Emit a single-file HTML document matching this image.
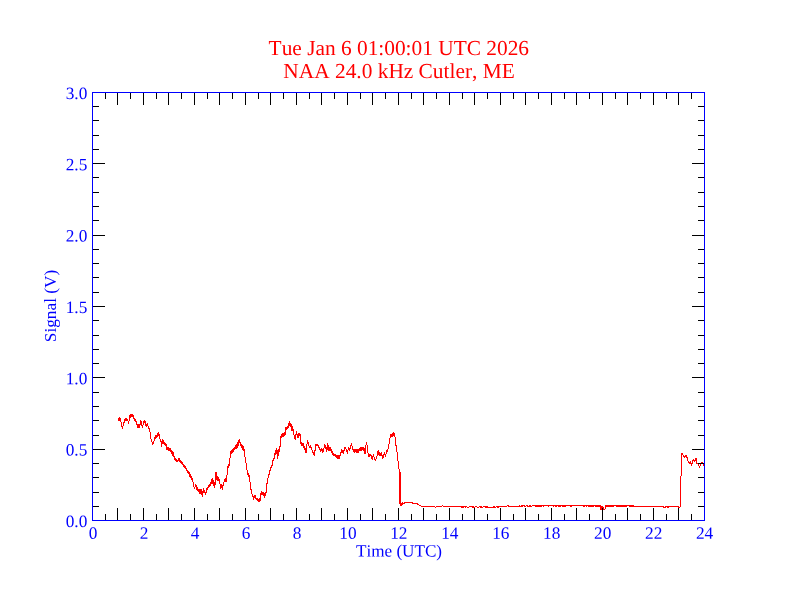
<!DOCTYPE html>
<html lang="en"><head><meta charset="utf-8"><title>NAA 24.0 kHz Cutler, ME</title>
<style>
html,body{margin:0;padding:0;background:#ffffff;}
body{width:792px;height:612px;overflow:hidden;}
svg{display:block;will-change:transform;}
text{font-kerning:none;font-variant-ligatures:none;}
</style></head><body>
<svg width="792" height="612" viewBox="0 0 792 612" role="img" aria-label="NAA 24.0 kHz Cutler, ME signal plot">
<path d="M118.2 419.9L118.5 418.4L118.7 419.4L119.0 417.7L119.2 419.0L119.4 417.5L119.7 418.0L119.9 417.0L120.0 417.8L120.1 417.8L120.1 418.6L120.2 418.5L120.3 419.3L120.4 419.1L120.4 419.9L120.5 419.9L120.6 420.6L120.7 420.4L120.7 421.3L120.8 421.2L120.9 422.0L121.0 422.0L121.0 422.7L121.1 422.6L121.2 423.3L121.3 423.3L121.3 424.1L121.4 423.9L121.5 424.7L121.6 424.6L121.6 425.4L121.7 425.2L121.8 426.1L121.9 425.9L121.9 426.7L122.0 426.6L122.1 427.5L122.2 427.4L122.2 428.1L122.3 428.1L122.4 428.9L122.5 428.1L122.6 428.1L122.7 427.4L122.8 427.4L122.8 426.7L122.9 426.7L123.0 425.9L123.1 426.0L123.2 425.2L123.3 425.4L123.4 424.5L123.5 424.7L123.5 423.8L123.6 424.0L123.7 423.2L123.8 423.3L123.9 422.4L124.0 422.6L124.1 421.8L124.2 421.9L124.2 421.1L124.3 421.2L124.4 420.4L124.5 420.8L124.8 419.6L125.0 420.7L125.2 418.5L125.5 419.7L125.8 418.1L126.2 419.7L126.6 418.7L127.0 419.9L127.4 419.1L127.5 420.0L127.6 420.0L127.8 420.7L127.9 420.7L128.0 421.4L128.1 421.3L128.2 422.1L128.3 421.9L128.5 422.7L128.6 422.6L128.7 423.4L128.7 422.7L128.8 422.7L128.8 422.0L128.9 422.0L128.9 421.3L129.0 421.3L129.0 420.6L129.1 420.5L129.1 419.8L129.1 419.9L129.2 419.1L129.2 419.3L129.3 418.5L129.3 418.5L129.4 417.7L129.4 417.8L129.5 417.0L129.5 417.6L129.8 415.9L130.1 417.4L130.4 415.4L130.7 416.6L130.9 414.8L131.2 415.9L131.5 414.6L131.8 415.9L132.1 413.9L132.4 415.1L132.5 414.3L132.7 415.7L132.8 414.7L133.0 416.2L133.1 415.4L133.2 417.3L133.4 416.4L133.5 418.0L133.7 416.9L133.8 418.7L134.0 417.6L134.1 419.4L134.3 418.0L134.5 419.6L134.7 419.0L134.9 420.6L135.1 419.1L135.4 420.9L135.6 420.0L135.8 421.7L136.0 420.6L136.2 421.7L136.3 421.7L136.4 422.4L136.5 422.3L136.6 423.0L136.7 423.0L136.8 423.8L136.9 423.8L137.0 424.5L137.0 424.3L137.1 425.1L137.2 425.1L137.3 425.9L137.4 425.8L137.5 426.4L137.6 426.4L137.7 427.2L137.8 426.8L138.0 427.6L138.1 426.1L138.3 427.3L138.4 425.4L138.6 426.7L138.8 424.9L138.9 425.7L139.1 424.6L139.2 425.4L139.2 425.3L139.3 426.0L139.3 426.1L139.4 426.8L139.4 426.8L139.5 427.6L139.6 426.7L139.6 426.7L139.7 426.1L139.8 426.2L139.8 425.3L139.9 425.5L139.9 424.7L140.0 424.6L140.1 424.0L140.1 424.0L140.2 423.3L140.2 423.3L140.3 422.5L140.4 422.6L140.4 421.8L140.5 421.9L140.6 421.2L140.6 421.1L140.7 420.3L140.8 420.5L140.8 420.3L140.9 421.2L141.0 421.0L141.1 421.9L141.2 421.9L141.2 422.6L141.3 422.4L141.4 423.3L141.5 423.2L141.6 423.9L141.7 423.9L141.7 424.6L141.8 424.7L141.9 425.4L142.0 425.4L142.1 426.2L142.2 426.1L142.2 426.9L142.3 426.7L142.4 427.6L142.5 426.7L142.6 426.9L142.6 426.0L142.7 426.0L142.8 425.2L142.9 425.3L143.0 424.6L143.1 424.6L143.1 423.8L143.2 423.9L143.3 423.0L143.4 423.2L143.5 422.4L143.5 422.4L143.6 421.6L143.7 422.2L144.1 420.6L144.5 422.1L144.9 421.0L145.3 421.7L145.4 421.6L145.4 422.4L145.5 422.3L145.5 423.2L145.6 423.0L145.7 423.9L145.7 423.9L145.8 424.6L145.8 424.5L145.9 425.2L146.0 425.3L146.0 426.0L146.1 426.0L146.1 426.7L146.2 426.7L146.3 426.8L146.4 426.1L146.6 426.0L146.7 425.4L146.8 425.4L146.9 424.8L147.0 424.9L147.2 424.0L147.3 424.1L147.4 423.4L147.5 424.1L147.6 424.2L147.7 424.9L147.8 424.8L147.9 425.7L148.0 425.6L148.1 426.3L148.2 426.4L148.2 427.4L148.5 426.5L148.7 428.4L148.9 427.3L149.1 428.7L149.3 428.1L149.5 429.2L149.6 429.1L149.6 430.0L149.7 429.9L149.7 430.7L149.8 430.6L149.8 431.4L149.8 431.4L149.9 432.1L150.0 432.0L150.0 432.8L150.1 432.7L150.1 433.6L150.2 433.5L150.2 434.3L150.2 434.2L150.3 434.9L150.4 435.0L150.4 435.7L150.5 435.6L150.6 436.5L150.6 436.4L150.7 437.2L150.8 437.0L150.8 437.8L150.9 437.8L150.9 438.5L151.0 438.5L151.1 439.3L151.1 439.2L151.2 440.1L151.3 439.9L151.4 440.8L151.6 440.6L151.7 441.4L151.8 441.3L151.9 442.0L152.1 442.1L152.2 442.9L152.3 442.9L152.4 443.5L152.6 443.6L152.7 444.3L152.8 444.2L152.9 444.2L153.0 443.5L153.2 443.5L153.3 442.8L153.4 443.0L153.5 442.1L153.6 442.3L153.7 441.5L153.9 441.6L154.0 440.9L154.1 441.0L154.2 440.1L154.3 440.3L154.4 439.5L154.5 439.6L154.6 438.7L154.8 438.8L154.9 438.1L155.0 438.2L155.1 437.3L155.2 437.4L155.3 436.4L155.6 437.2L155.9 435.7L156.3 437.2L156.6 435.5L156.8 436.4L157.0 434.9L157.2 435.8L157.4 434.2L157.6 435.0L157.7 433.6L157.9 435.0L158.1 433.0L158.3 434.2L158.5 432.6L158.7 433.0L158.8 432.9L158.9 433.7L159.0 433.6L159.1 434.4L159.2 434.4L159.3 435.2L159.4 435.2L159.5 435.8L159.5 435.8L159.6 436.7L159.6 436.6L159.7 437.4L159.7 437.3L159.8 438.1L159.8 438.1L159.9 438.8L159.9 438.2L160.1 439.9L160.2 439.1L160.4 440.8L160.6 439.3L160.7 441.1L160.9 440.1L161.0 441.8L161.2 441.2L161.2 442.1L161.3 442.0L161.3 442.7L161.3 442.8L161.3 443.5L161.4 443.5L161.4 444.2L161.4 444.2L161.5 444.9L161.5 444.8L161.5 445.6L161.5 445.5L161.6 446.3L161.6 446.3L161.6 446.4L161.7 445.5L161.7 445.7L161.8 444.9L161.8 444.9L161.9 444.1L161.9 444.3L161.9 443.5L162.0 443.6L162.0 442.7L162.1 442.8L162.1 442.1L162.1 442.1L162.2 441.3L162.2 441.5L162.3 440.6L162.3 440.8L162.4 440.0L162.4 440.3L162.6 439.6L162.7 441.0L162.9 440.0L163.1 442.1L163.2 440.6L163.4 442.4L163.6 441.3L163.8 443.1L163.9 442.2L164.1 444.0L164.3 443.0L164.6 444.2L164.8 443.1L165.0 444.9L165.3 444.0L165.5 445.6L165.7 444.3L166.0 445.8L166.2 445.5L166.3 446.3L166.4 446.2L166.4 447.0L166.5 447.0L166.6 447.8L166.7 447.7L166.8 448.5L166.8 448.5L166.9 449.2L167.0 448.6L167.4 449.9L167.7 448.5L168.1 450.3L168.5 448.9L168.8 450.4L169.2 448.8L169.6 450.3L169.9 448.5L170.3 450.0L170.5 448.9L170.7 450.8L170.9 449.4L171.1 451.1L171.4 450.0L171.6 452.1L171.8 450.6L172.0 452.4L172.2 451.5L172.4 453.0L172.6 452.0L172.8 453.7L173.1 452.3L173.3 454.2L173.5 453.2L173.7 454.2L173.8 454.1L173.8 454.9L173.9 454.8L173.9 455.7L174.0 455.6L174.0 456.4L174.1 456.3L174.1 457.0L174.2 456.9L174.2 457.8L174.3 457.2L174.5 459.0L174.8 457.8L175.0 459.3L175.3 458.5L175.5 459.7L175.8 458.7L176.0 460.7L176.3 459.4L176.5 461.3L176.8 460.1L177.0 461.5L177.2 460.6L177.5 461.9L177.7 460.2L177.9 461.0L178.1 459.5L178.3 460.5L178.5 458.8L178.7 459.7L178.9 458.1L179.1 459.8L179.3 458.5L179.5 460.3L179.7 459.1L179.9 460.8L180.2 460.1L180.4 461.4L180.6 460.8L180.8 462.4L181.0 461.0L181.2 462.7L181.4 462.0L181.7 463.4L181.9 462.2L182.2 464.3L182.4 462.8L182.7 464.7L182.9 463.8L183.2 465.2L183.4 464.3L183.7 465.8L183.9 464.7L184.1 466.2L184.3 465.4L184.5 467.1L184.7 466.1L184.9 467.7L185.2 466.2L185.4 468.4L185.6 467.1L185.8 468.7L186.0 468.1L186.1 468.9L186.2 468.7L186.4 469.6L186.5 469.5L186.6 470.3L186.8 470.1L186.9 470.9L187.0 470.8L187.1 471.5L187.2 470.8L187.5 472.7L187.8 471.5L188.1 473.1L188.4 471.9L188.7 473.4L189.0 472.4L189.3 473.7L189.5 472.9L189.7 474.8L189.8 473.7L190.0 475.4L190.2 474.0L190.3 476.3L190.5 475.2L190.6 476.9L190.7 475.6L190.9 477.1L191.0 476.4L191.2 477.9L191.3 477.2L191.5 478.7L191.7 477.4L191.8 479.3L192.0 478.1L192.2 480.2L192.4 479.2L192.5 481.0L192.7 480.2L192.8 481.0L192.8 480.9L192.9 481.7L192.9 481.6L193.0 482.4L193.1 482.2L193.1 483.2L193.2 483.0L193.3 483.8L193.3 483.7L193.4 484.4L193.4 484.5L193.5 485.1L193.6 485.2L193.7 485.9L193.7 485.9L193.8 486.7L193.9 486.7L194.0 487.4L194.1 487.4L194.1 488.2L194.2 488.2L194.3 489.0L194.4 488.2L194.5 488.2L194.7 487.4L194.8 487.6L194.9 486.8L195.0 486.8L195.1 486.0L195.2 486.1L195.4 485.4L195.5 485.3L195.6 484.3L195.8 486.0L195.9 485.0L196.1 486.5L196.2 485.6L196.4 487.0L196.6 486.3L196.7 487.8L196.9 487.0L197.1 488.3L197.2 487.7L197.4 489.0L197.5 488.2L197.7 489.6L197.9 489.1L198.0 490.5L198.2 489.5L198.3 491.3L198.5 490.3L198.6 491.7L198.8 490.8L199.0 492.1L199.1 491.1L199.3 492.9L199.4 492.2L199.6 493.7L199.8 492.8L199.9 493.7L200.0 492.0L200.2 492.7L200.3 491.5L200.4 492.4L200.6 490.7L200.7 491.8L200.8 489.9L201.0 491.2L201.1 489.3L201.3 490.1L201.4 489.0L201.5 489.8L201.5 489.7L201.6 490.4L201.6 490.5L201.7 491.2L201.7 491.0L201.8 491.9L201.8 491.9L201.8 492.5L201.9 492.6L202.0 493.2L202.0 493.3L202.1 493.9L202.1 493.9L202.2 494.8L202.2 494.7L202.2 495.5L202.3 495.3L202.3 496.2L202.4 496.0L202.5 496.2L202.5 495.4L202.6 495.4L202.6 494.6L202.7 494.8L202.7 494.0L202.8 493.9L202.8 493.1L202.9 493.2L202.9 492.5L203.0 492.5L203.0 491.7L203.1 491.9L203.1 491.1L203.2 491.1L203.2 490.3L203.3 490.4L203.3 489.6L203.4 489.8L203.4 488.9L203.5 488.9L203.6 488.9L203.8 489.7L203.9 489.6L204.0 490.3L204.2 490.3L204.3 491.0L204.4 490.9L204.6 491.7L204.7 491.6L204.8 492.4L204.9 492.3L205.1 493.1L205.2 493.1L205.3 493.7L205.5 493.6L205.6 494.4L205.7 493.7L205.8 493.6L205.9 492.9L205.9 493.0L206.0 492.1L206.1 492.3L206.2 491.5L206.3 491.6L206.4 490.7L206.5 490.8L206.5 490.1L206.6 490.0L206.7 489.4L206.8 490.2L207.0 488.5L207.3 489.4L207.5 487.9L207.7 488.5L207.9 487.0L208.2 488.0L208.4 486.8L208.6 487.4L208.8 485.9L209.1 487.1L209.3 485.7L209.5 486.3L209.8 484.5L209.9 485.7L210.0 484.1L210.2 485.2L210.3 483.3L210.4 484.6L210.6 482.7L210.7 483.9L210.8 482.4L211.0 483.1L211.1 481.8L211.3 482.8L211.4 481.1L211.5 481.7L211.7 480.0L211.8 481.1L211.9 479.4L212.1 480.4L212.2 479.0L212.4 479.9L212.5 478.7L212.6 479.6L212.7 479.5L212.8 480.3L212.9 480.1L213.0 480.9L213.1 480.9L213.2 481.6L213.2 481.6L213.3 482.4L213.4 482.2L213.5 483.1L213.6 483.0L213.7 483.7L213.8 483.6L213.9 484.5L214.0 484.4L214.1 485.1L214.1 485.0L214.2 485.7L214.3 485.7L214.4 486.5L214.4 486.4L214.5 487.2L214.6 487.1L214.7 487.8L214.8 487.8L214.8 487.9L214.8 487.1L214.8 487.1L214.9 486.5L214.9 486.4L214.9 485.8L214.9 485.8L215.0 484.9L215.0 485.1L215.0 484.2L215.0 484.4L215.1 483.5L215.1 483.7L215.1 482.9L215.2 483.0L215.2 482.1L215.2 482.3L215.2 481.5L215.3 481.6L215.3 480.8L215.3 480.9L215.3 480.0L215.4 480.1L215.4 479.3L215.4 479.4L215.5 478.8L215.5 478.8L215.5 478.0L215.5 478.1L215.6 477.3L215.6 477.3L215.6 476.5L215.6 476.6L215.7 475.9L215.7 475.9L215.7 475.1L215.8 475.3L215.8 474.5L215.8 474.5L215.8 473.8L215.9 473.8L215.9 473.2L215.9 473.1L215.9 472.3L216.0 472.5L216.0 471.6L216.1 472.5L216.2 472.3L216.2 473.1L216.3 473.2L216.4 473.8L216.5 473.8L216.5 474.6L216.6 474.5L216.7 475.2L216.8 475.1L216.9 475.9L216.9 475.9L217.0 476.7L217.1 476.5L217.2 477.3L217.2 477.0L217.5 478.7L217.7 477.7L217.9 478.9L218.2 478.0L218.4 479.8L218.6 478.9L218.9 480.1L219.1 479.8L219.2 480.6L219.2 480.5L219.3 481.4L219.4 481.2L219.5 482.1L219.5 482.0L219.6 482.7L219.7 482.7L219.7 483.4L219.8 483.4L219.9 484.1L220.0 484.1L220.0 484.8L220.1 484.8L220.2 485.5L220.2 485.4L220.3 486.3L220.4 486.3L220.5 486.9L220.5 486.9L220.6 488.3L220.8 486.3L220.9 487.7L221.1 485.5L221.3 486.6L221.5 485.2L221.6 486.2L221.8 484.7L221.9 485.6L221.9 485.5L222.0 486.3L222.0 486.3L222.1 487.0L222.1 487.1L222.2 487.8L222.2 487.6L222.3 488.6L222.3 488.4L222.4 489.2L222.5 488.4L222.5 488.6L222.6 487.7L222.7 487.8L222.7 487.0L222.8 487.0L222.9 486.4L222.9 486.4L223.0 485.5L223.1 485.7L223.2 484.9L223.2 484.9L223.3 484.2L223.4 484.3L223.4 483.5L223.5 483.6L223.6 482.8L223.8 482.8L223.9 482.1L224.0 482.2L224.2 481.4L224.3 481.6L224.4 480.7L224.5 480.9L224.7 480.2L224.8 480.2L224.9 479.4L225.1 479.5L225.2 478.4L225.4 480.2L225.6 478.7L225.8 480.5L226.0 479.5L226.2 481.3L226.4 480.8L226.4 480.9L226.5 480.0L226.5 480.2L226.5 479.4L226.6 479.5L226.6 478.7L226.6 478.7L226.7 477.9L226.7 478.0L226.7 477.3L226.8 477.4L226.8 476.5L226.8 476.6L226.9 475.9L226.9 475.9L226.9 475.2L227.0 475.2L227.0 474.4L227.0 474.4L227.1 473.8L227.1 473.7L227.1 473.1L227.2 473.1L227.2 472.3L227.2 472.5L227.3 471.6L227.3 471.7L227.3 471.0L227.4 470.9L227.4 470.1L227.4 470.2L227.5 469.5L227.5 469.6L227.5 468.8L227.6 468.9L227.6 467.9L227.7 468.5L227.9 466.6L228.0 467.7L228.2 466.0L228.3 467.1L228.4 465.2L228.6 466.7L228.7 464.7L228.8 465.7L229.0 464.4L229.1 465.3L229.3 463.6L229.4 464.0L229.4 463.2L229.5 463.4L229.5 462.6L229.5 462.6L229.6 461.8L229.6 461.8L229.7 461.1L229.7 461.1L229.7 460.3L229.8 460.4L229.8 459.7L229.8 459.6L229.9 459.0L229.9 458.9L230.0 458.1L230.0 458.2L230.0 457.5L230.1 457.6L230.1 456.6L230.1 456.9L230.2 456.1L230.2 456.0L230.2 455.2L230.4 455.4L230.5 454.6L230.6 454.7L230.8 454.0L230.9 454.0L231.0 453.2L231.1 453.4L231.2 452.6L231.4 452.7L231.5 451.9L231.6 452.0L231.8 451.3L231.9 451.4L232.0 450.3L232.2 451.3L232.5 449.3L232.8 451.0L233.0 449.3L233.2 450.5L233.5 448.4L233.8 449.6L234.0 448.2L234.2 449.1L234.5 447.9L234.7 449.0L235.0 447.1L235.2 448.3L235.4 446.6L235.6 447.2L235.9 445.6L236.1 447.1L236.3 444.9L236.5 446.4L236.8 444.6L237.0 445.3L237.1 444.5L237.3 444.5L237.4 443.8L237.5 443.8L237.7 443.1L237.8 443.2L237.9 442.4L238.1 442.5L238.2 441.8L238.3 441.8L238.4 441.1L238.6 441.2L238.7 440.3L238.8 440.6L239.0 439.7L239.1 439.8L239.2 439.7L239.4 440.5L239.5 440.5L239.6 441.2L239.7 441.1L239.9 441.9L240.0 441.8L240.1 442.6L240.2 442.5L240.4 443.3L240.5 443.3L240.6 444.1L240.8 443.3L240.9 445.5L241.0 444.1L241.2 445.9L241.3 444.8L241.4 446.3L241.6 445.5L241.7 447.4L241.8 446.0L242.0 447.6L242.1 446.6L242.3 448.5L242.4 447.2L242.5 449.2L242.7 448.3L242.8 449.9L243.1 448.5L243.4 450.3L243.8 448.9L244.1 450.2L244.1 450.2L244.2 450.9L244.2 450.8L244.3 451.6L244.3 451.6L244.4 452.4L244.4 452.2L244.4 453.0L244.5 453.0L244.5 453.7L244.6 453.7L244.6 454.5L244.6 454.4L244.7 455.1L244.7 455.1L244.8 455.8L244.8 455.9L244.9 456.6L244.9 456.4L245.0 457.3L245.0 457.2L245.1 458.1L245.2 457.9L245.3 458.8L245.3 458.7L245.4 459.6L245.5 459.5L245.6 460.3L245.6 460.2L245.7 461.0L245.7 460.9L245.8 461.7L245.8 461.7L245.9 462.5L245.9 462.4L245.9 463.1L246.0 463.2L246.0 463.9L246.1 464.0L246.1 464.7L246.2 464.7L246.2 465.3L246.2 465.4L246.3 466.1L246.3 466.1L246.4 466.9L246.4 466.8L246.5 467.5L246.5 467.6L246.6 468.3L246.7 468.1L246.7 468.9L246.8 468.9L246.9 469.7L246.9 469.5L247.0 470.2L247.1 470.3L247.2 471.0L247.2 470.9L247.3 471.7L247.4 471.5L247.4 472.3L247.5 471.8L247.7 473.6L247.8 472.3L247.9 474.1L248.1 473.3L248.2 474.7L248.4 473.8L248.6 475.4L248.7 474.3L248.8 476.4L249.0 475.8L249.1 476.5L249.1 476.6L249.2 477.3L249.2 477.2L249.3 478.0L249.3 478.0L249.4 478.8L249.5 478.6L249.5 479.4L249.6 479.4L249.6 480.1L249.7 480.0L249.7 480.8L249.8 480.8L249.9 481.6L249.9 481.5L250.0 482.3L250.0 482.2L250.1 483.1L250.1 482.9L250.2 483.7L250.2 483.8L250.3 484.5L250.3 484.5L250.4 485.2L250.4 485.1L250.5 485.9L250.5 485.8L250.6 486.7L250.6 486.6L250.7 487.4L250.7 487.3L250.8 488.0L250.8 488.0L250.8 488.7L250.9 488.7L250.9 489.4L251.0 489.3L251.0 490.2L251.1 490.2L251.1 490.8L251.2 490.8L251.2 491.5L251.2 491.5L251.4 492.2L251.5 492.1L251.6 492.9L251.7 492.9L251.8 493.6L251.9 493.6L252.0 494.3L252.1 494.3L252.2 495.0L252.3 495.0L252.4 495.7L252.5 495.6L252.6 496.3L252.8 496.3L252.9 497.1L253.0 497.1L253.1 497.9L253.2 497.8L253.4 498.6L253.5 498.3L253.7 499.3L253.8 497.2L253.9 498.4L254.1 496.7L254.2 497.6L254.4 495.8L254.6 497.2L254.7 495.5L254.8 496.6L255.0 495.1L255.1 495.9L255.2 495.8L255.4 496.6L255.5 496.6L255.6 497.3L255.8 497.2L255.9 498.0L256.0 497.9L256.1 498.6L256.2 498.0L256.7 499.7L257.1 498.1L257.5 499.5L257.9 498.5L258.0 499.3L258.2 499.3L258.3 500.1L258.4 500.0L258.6 500.8L258.7 500.8L258.9 501.6L259.0 501.0L259.1 501.9L259.3 500.1L259.4 501.6L259.6 499.5L259.7 500.9L259.9 498.7L260.0 499.5L260.1 498.7L260.1 498.6L260.1 497.9L260.2 498.0L260.2 497.2L260.3 497.3L260.4 496.5L260.4 496.5L260.4 495.7L260.5 495.8L260.6 495.1L260.6 495.1L260.6 494.3L260.7 494.4L260.8 493.6L260.9 493.6L261.0 492.9L261.1 492.9L261.2 492.2L261.3 492.2L261.4 491.5L261.5 491.4L261.6 491.4L261.7 492.2L261.8 492.2L261.9 492.9L262.1 493.0L262.2 493.7L262.3 493.6L262.4 494.5L262.5 494.4L262.6 494.4L262.7 493.8L262.9 493.7L263.0 493.0L263.1 493.1L263.2 492.4L263.3 493.1L263.4 493.0L263.4 493.7L263.5 493.7L263.6 494.5L263.7 494.4L263.8 495.2L263.9 495.1L263.9 495.8L264.0 495.8L264.1 496.6L264.2 495.8L264.4 497.2L264.5 495.0L264.7 496.1L264.9 494.4L265.1 495.8L265.2 494.0L265.4 494.9L265.6 492.9L265.7 494.1L265.9 492.3L266.0 493.3L266.2 491.6L266.3 492.6L266.5 491.5L266.5 491.5L266.5 490.7L266.5 490.9L266.6 490.1L266.6 490.2L266.6 489.4L266.6 489.5L266.6 488.7L266.6 488.7L266.7 487.9L266.7 488.0L266.7 487.3L266.7 487.3L266.7 486.5L266.7 486.6L266.8 485.8L266.8 485.9L266.8 485.1L266.8 485.3L266.8 484.4L266.9 484.5L266.9 483.8L267.0 483.8L267.0 482.9L267.1 483.1L267.1 482.3L267.2 482.3L267.2 481.5L267.3 481.7L267.3 480.8L267.4 480.9L267.4 480.2L267.5 480.2L267.5 479.4L267.6 479.5L267.7 478.7L267.8 478.7L267.9 478.0L268.0 478.1L268.1 477.3L268.2 477.2L268.3 476.6L268.4 476.7L268.5 475.9L268.6 475.9L268.7 475.1L268.8 475.2L268.9 474.5L269.0 474.5L269.0 473.8L269.1 473.7L269.2 473.0L269.3 473.0L269.4 472.4L269.4 472.4L269.5 471.6L269.6 471.7L269.7 470.9L269.7 471.0L269.8 470.2L269.9 470.9L270.1 469.0L270.2 470.2L270.4 468.4L270.6 469.2L270.7 467.7L270.9 468.9L271.1 467.1L271.2 468.0L271.4 466.4L271.6 467.2L271.7 465.9L271.9 466.9L272.1 465.6L272.1 465.7L272.2 464.9L272.3 464.9L272.3 464.2L272.4 464.2L272.5 463.5L272.5 463.5L272.6 462.8L272.7 462.8L272.7 462.0L272.8 462.1L272.9 461.3L272.9 461.4L273.0 460.1L273.1 461.1L273.3 459.7L273.4 460.7L273.6 458.8L273.8 459.6L273.9 457.9L274.1 459.2L274.2 457.4L274.4 458.5L274.5 457.4L274.6 457.4L274.6 456.6L274.7 456.6L274.7 455.8L274.8 455.9L274.8 455.1L274.9 455.2L275.0 454.5L275.0 454.6L275.1 453.7L275.1 453.7L275.2 453.0L275.2 453.0L275.3 452.3L275.4 452.4L275.5 451.5L275.6 451.6L275.7 450.9L275.8 451.0L275.9 450.2L276.0 450.3L276.1 449.6L276.2 449.6L276.3 448.9L276.4 448.9L276.5 448.1L276.5 448.9L276.6 448.8L276.6 449.6L276.7 449.7L276.7 450.4L276.7 450.3L276.8 451.1L276.8 451.0L276.8 451.8L276.9 451.7L276.9 452.5L277.0 452.4L277.0 453.2L277.0 453.2L277.1 453.8L277.1 453.7L277.1 454.6L277.2 454.5L277.2 455.3L277.3 455.1L277.3 455.9L277.3 455.9L277.4 456.6L277.4 456.6L277.4 457.3L277.5 457.2L277.5 458.0L277.6 457.9L277.6 458.7L277.6 458.0L277.7 458.0L277.7 457.2L277.8 457.4L277.8 456.5L277.9 456.5L277.9 455.8L277.9 455.8L278.0 455.1L278.0 455.1L278.1 454.3L278.1 454.4L278.1 453.7L278.2 453.6L278.2 453.0L278.3 453.0L278.3 452.2L278.4 452.3L278.4 451.5L278.4 451.5L278.5 450.8L278.5 450.7L278.6 450.0L278.6 450.8L278.8 449.0L278.9 450.1L279.1 448.3L279.3 449.1L279.4 447.7L279.6 448.4L279.8 446.8L279.9 448.0L280.1 446.1L280.2 446.7L280.3 446.0L280.3 446.1L280.3 445.4L280.3 445.4L280.3 444.6L280.4 444.6L280.4 443.9L280.4 444.0L280.4 443.2L280.4 443.3L280.4 442.6L280.5 442.6L280.5 441.7L280.5 441.9L280.5 441.0L280.5 441.1L280.5 440.3L280.6 440.5L280.6 439.7L280.6 439.8L280.6 438.9L280.6 439.0L280.6 438.2L280.7 438.4L280.7 437.6L280.7 437.9L280.9 436.5L281.1 437.7L281.2 435.8L281.4 436.7L281.6 435.1L281.8 436.4L281.9 434.6L282.1 435.2L282.3 433.5L282.6 435.0L283.0 433.7L283.4 435.3L283.7 433.7L284.0 434.6L284.4 433.8L284.5 433.9L284.6 433.3L284.7 433.4L284.8 432.6L284.8 432.7L284.9 431.9L285.0 431.9L285.1 431.2L285.2 431.2L285.3 430.5L285.4 430.5L285.5 429.8L285.6 429.8L285.6 428.4L285.9 430.0L286.1 427.9L286.3 429.4L286.6 427.8L286.8 428.5L287.0 427.2L287.2 427.9L287.5 426.2L287.7 427.2L287.8 426.3L288.0 426.5L288.1 425.8L288.2 425.8L288.3 425.1L288.5 425.2L288.6 424.4L288.7 424.4L288.9 423.7L289.0 423.8L289.1 423.0L289.2 423.1L289.4 422.4L289.5 422.8L289.7 421.7L289.8 423.6L290.0 422.6L290.2 424.3L290.4 423.1L290.5 424.7L290.7 424.0L290.9 425.5L291.1 424.7L291.2 426.3L291.4 425.5L291.4 426.2L291.5 426.2L291.5 426.9L291.5 426.9L291.6 427.7L291.6 427.6L291.6 428.3L291.6 428.3L291.7 429.1L291.7 428.9L291.7 429.7L291.8 429.6L291.8 430.9L292.1 429.6L292.5 430.3L292.8 428.7L293.1 429.6L293.2 429.6L293.2 430.3L293.3 430.2L293.3 431.0L293.4 431.0L293.4 431.7L293.5 431.8L293.5 432.5L293.6 432.4L293.6 433.2L293.7 433.2L293.7 433.9L293.8 433.8L293.8 434.6L293.9 434.5L294.0 435.3L294.1 435.2L294.2 436.0L294.3 436.0L294.4 436.7L294.5 436.8L294.6 437.5L294.7 437.4L294.8 438.3L294.9 438.1L295.0 439.0L295.1 438.9L295.2 439.6L295.3 438.9L295.3 438.9L295.4 438.1L295.4 438.2L295.5 437.3L295.5 437.5L295.6 436.6L295.6 436.8L295.7 435.9L295.7 435.9L295.8 435.2L295.9 435.2L295.9 434.6L296.0 434.6L296.0 433.8L296.1 433.9L296.1 433.2L296.2 433.1L296.2 432.3L296.3 432.3L296.3 431.6L296.4 431.8L296.5 431.7L296.6 432.4L296.7 432.3L296.8 433.1L296.9 433.0L297.0 433.8L297.1 433.8L297.2 434.4L297.2 434.4L297.3 435.3L297.4 435.2L297.5 435.9L297.6 435.9L297.7 436.6L297.8 436.5L297.9 437.3L298.0 437.2L298.1 437.9L298.2 437.1L298.3 437.3L298.4 436.4L298.5 436.4L298.5 435.7L298.6 435.7L298.7 434.9L298.8 435.0L298.9 433.8L299.3 435.1L299.8 433.6L300.2 434.6L300.2 434.6L300.3 435.4L300.3 435.2L300.3 436.0L300.3 436.1L300.4 436.9L300.4 436.7L300.4 437.5L300.4 437.5L300.5 438.3L300.5 438.2L300.5 438.9L300.5 439.0L300.6 439.7L300.6 439.6L300.6 440.4L300.6 440.3L300.7 441.2L300.7 441.1L300.7 441.9L300.7 441.8L300.8 442.6L300.8 442.1L301.0 443.8L301.1 442.7L301.3 444.6L301.4 443.5L301.6 445.3L301.8 444.1L301.9 446.0L302.1 444.9L302.2 445.9L302.4 445.1L302.5 445.2L302.6 444.5L302.7 444.4L302.9 443.8L303.0 443.8L303.1 443.0L303.2 443.7L303.3 443.7L303.4 444.4L303.5 444.3L303.6 445.1L303.7 445.0L303.8 445.8L303.9 445.7L304.0 446.5L304.1 446.4L304.2 447.1L304.3 447.1L304.4 447.8L304.5 447.8L304.6 448.6L304.7 448.5L304.8 449.6L304.9 448.6L305.0 450.4L305.2 449.3L305.3 451.2L305.5 449.9L305.6 451.6L305.8 450.9L305.9 452.4L306.1 451.4L306.2 452.5L306.2 451.8L306.3 451.7L306.3 451.1L306.3 451.1L306.4 450.4L306.4 450.5L306.4 449.6L306.5 449.7L306.5 448.9L306.5 449.1L306.6 448.3L306.6 448.4L306.6 447.6L306.7 447.7L306.7 446.9L306.7 446.9L306.8 446.2L306.8 446.3L306.8 445.4L306.9 445.6L306.9 444.8L306.9 444.8L307.0 444.0L307.0 444.1L307.0 443.3L307.1 443.5L307.1 442.6L307.1 442.8L307.2 442.0L307.2 442.1L307.2 440.9L307.5 442.4L307.7 441.6L307.9 442.9L308.1 441.8L308.3 443.4L308.5 442.9L308.6 443.7L308.6 443.6L308.7 444.5L308.7 444.4L308.8 445.3L308.8 445.2L308.9 445.9L309.0 445.9L309.0 446.6L309.1 446.5L309.1 447.4L309.2 447.2L309.2 448.1L309.3 448.0L309.4 448.0L309.6 447.3L309.7 447.4L309.8 446.5L309.9 446.6L310.1 445.9L310.2 446.5L310.4 445.5L310.5 447.3L310.7 446.3L310.8 447.8L311.0 446.7L311.2 448.2L311.3 447.3L311.5 449.0L311.6 447.7L311.8 449.3L311.9 449.1L312.0 450.0L312.1 449.8L312.2 450.5L312.3 450.5L312.5 451.4L312.6 451.2L312.7 452.1L312.8 452.0L312.9 452.7L313.0 452.6L313.1 453.7L313.3 452.6L313.5 454.5L313.7 453.2L313.9 455.0L314.1 454.1L314.3 455.9L314.5 455.0L314.5 455.1L314.6 454.3L314.6 454.4L314.6 453.6L314.7 453.7L314.7 453.0L314.7 453.1L314.8 452.2L314.8 452.4L314.9 451.6L314.9 451.6L314.9 450.8L315.0 451.0L315.0 450.1L315.0 450.2L315.1 449.4L315.1 449.5L315.1 448.8L315.2 448.8L315.2 448.0L315.2 448.1L315.3 447.3L315.3 447.5L315.4 446.7L315.4 446.7L315.4 445.9L315.5 446.0L315.5 445.2L315.5 445.4L315.6 444.6L315.6 445.3L316.0 443.8L316.3 445.4L316.6 444.2L317.0 445.7L317.4 444.6L317.7 446.0L317.9 445.0L318.2 446.8L318.4 445.2L318.6 447.1L318.8 445.9L319.1 447.6L319.3 447.1L319.4 447.8L319.5 447.7L319.6 448.6L319.7 448.4L319.8 449.2L320.0 449.1L320.1 449.9L320.2 449.9L320.3 450.7L320.4 450.7L320.5 451.3L320.6 451.2L320.7 451.4L320.8 450.7L321.0 450.8L321.1 450.0L321.2 450.1L321.3 449.3L321.4 449.3L321.6 448.6L321.7 448.7L321.8 448.0L321.9 448.8L322.0 448.7L322.1 449.4L322.1 449.3L322.2 450.1L322.3 450.1L322.4 450.8L322.5 450.7L322.6 451.5L322.6 451.4L322.7 452.1L322.8 452.1L322.9 452.3L323.0 451.3L323.1 451.4L323.2 450.8L323.3 450.8L323.4 450.0L323.4 450.1L323.5 449.4L323.6 449.5L323.7 448.7L323.8 448.8L323.9 448.0L324.0 448.1L324.1 447.2L324.1 447.3L324.2 446.6L324.3 446.7L324.4 446.0L324.4 445.9L324.5 445.2L324.6 445.3L324.7 444.6L324.8 444.7L324.9 444.6L325.0 445.3L325.1 445.4L325.3 446.0L325.4 445.9L325.5 446.8L325.7 446.8L325.8 447.5L325.9 447.4L325.9 448.2L325.9 448.1L326.0 448.8L326.1 448.8L326.1 449.6L326.1 449.5L326.2 450.3L326.2 450.3L326.3 451.0L326.3 450.9L326.4 451.6L326.5 451.0L326.5 451.1L326.6 450.2L326.6 450.4L326.7 449.5L326.7 449.6L326.8 448.7L326.8 448.9L326.9 448.1L326.9 448.1L327.0 447.5L327.1 447.4L327.1 446.7L327.2 446.7L327.2 446.0L327.3 446.1L327.3 445.2L327.4 445.4L327.4 444.5L327.5 444.9L327.7 443.8L327.8 446.0L328.0 444.8L328.1 446.2L328.3 445.1L328.4 447.3L328.6 445.8L328.7 447.6L328.9 446.5L329.2 448.1L329.5 447.3L329.8 448.8L330.0 447.6L330.3 449.2L330.6 448.0L330.8 449.8L330.9 448.7L331.1 450.6L331.2 449.6L331.4 451.7L331.5 450.2L331.7 452.2L331.8 451.1L332.0 452.8L332.2 451.6L332.4 453.3L332.6 452.3L332.7 454.3L332.9 453.4L333.1 455.1L333.3 453.9L333.5 455.2L333.9 454.4L334.2 455.5L334.6 454.7L334.9 456.2L335.2 454.6L335.6 456.5L335.8 455.1L336.1 457.2L336.3 455.8L336.5 457.5L336.8 456.6L337.0 458.0L337.2 457.1L337.5 458.6L337.7 458.1L337.8 458.2L337.9 457.5L338.0 457.5L338.2 456.7L338.3 456.8L338.4 456.1L338.5 456.7L338.7 455.7L338.9 457.3L339.2 455.9L339.4 457.8L339.6 457.2L339.7 457.4L339.8 456.5L339.8 456.6L339.9 455.8L340.0 455.9L340.1 455.2L340.1 455.2L340.2 454.4L340.3 454.4L340.4 453.6L340.4 453.8L340.5 452.9L340.6 453.7L340.8 452.0L340.9 453.0L341.1 451.0L341.3 452.4L341.5 450.8L341.6 451.3L341.8 449.5L342.0 451.4L342.2 450.3L342.4 452.2L342.6 451.1L342.9 452.7L343.1 451.6L343.3 453.6L343.5 452.7L343.6 452.8L343.7 452.0L343.8 452.1L343.9 451.2L343.9 451.4L344.0 450.5L344.1 450.5L344.2 449.7L344.3 449.9L344.4 449.2L344.5 449.2L344.6 448.5L344.7 448.4L344.8 447.0L345.1 448.9L345.4 447.4L345.7 449.0L346.0 448.6L346.1 449.3L346.2 449.2L346.3 450.0L346.4 450.0L346.5 450.8L346.6 450.6L346.7 451.4L346.8 451.3L346.9 452.0L347.0 452.0L347.1 452.8L347.2 452.8L347.2 453.5L347.3 452.7L347.4 452.8L347.5 452.0L347.6 452.1L347.6 451.2L347.7 451.3L347.8 450.6L347.9 450.7L348.0 449.8L348.0 449.8L348.1 449.2L348.2 449.2L348.3 448.4L348.3 448.4L348.4 447.6L348.5 448.1L348.6 447.0L348.8 449.1L348.9 447.6L349.1 449.6L349.2 448.3L349.3 450.0L349.5 449.0L349.6 450.9L349.8 450.2L349.8 450.3L349.9 449.4L350.0 449.5L350.1 448.7L350.2 448.9L350.2 448.1L350.3 448.1L350.4 447.3L350.5 447.3L350.6 446.6L350.7 446.7L350.7 446.0L350.8 446.0L350.9 445.3L351.0 445.3L351.1 444.5L351.2 444.7L351.2 443.7L351.3 443.8L351.4 443.1L351.5 443.8L351.5 443.7L351.6 444.5L351.7 444.6L351.8 445.2L351.8 445.1L351.9 445.9L352.0 445.9L352.0 446.7L352.1 446.6L352.2 447.3L352.2 447.2L352.4 448.0L352.5 448.0L352.7 448.8L352.8 448.7L352.9 449.4L353.1 449.3L353.2 450.1L353.3 450.0L353.5 450.9L353.6 450.8L353.8 451.5L353.9 451.2L354.2 452.5L354.6 450.7L354.9 451.9L355.3 450.6L355.6 451.5L356.0 449.9L356.3 451.5L356.6 450.4L356.9 452.1L357.2 450.8L357.5 452.4L357.8 451.3L358.1 452.6L358.2 450.9L358.4 452.4L358.6 450.4L358.7 451.3L358.9 449.5L359.0 450.6L359.1 449.3L359.3 450.2L359.4 448.2L359.6 449.6L359.8 448.0L359.9 449.1L360.1 447.3L360.2 447.7L360.3 447.6L360.4 448.5L360.5 448.3L360.6 449.1L360.7 449.0L360.8 449.9L360.9 449.9L361.0 451.3L361.2 449.1L361.4 450.2L361.6 448.8L361.9 450.1L362.1 448.2L362.3 449.1L362.5 447.3L362.7 448.6L363.0 447.2L363.3 449.3L363.7 447.8L364.0 449.8L364.3 449.0L364.4 449.8L364.4 449.7L364.4 450.5L364.5 450.4L364.6 451.2L364.6 451.2L364.6 452.0L364.7 451.9L364.8 452.6L364.8 452.5L364.9 453.3L364.9 453.2L364.9 454.0L365.0 454.1L365.0 454.0L365.1 453.2L365.1 453.3L365.1 452.5L365.2 452.6L365.2 451.8L365.3 451.9L365.3 451.2L365.3 451.2L365.4 450.5L365.4 450.5L365.4 449.8L365.5 449.8L365.5 449.1L365.5 449.1L365.6 448.3L365.6 448.5L365.7 447.7L365.7 447.7L365.7 446.8L365.8 447.0L365.8 446.2L365.8 446.3L365.9 445.6L365.9 445.5L365.9 444.9L366.0 444.8L366.0 444.0L366.1 444.1L366.1 443.4L366.1 443.5L366.2 442.7L366.2 442.6L366.3 442.6L366.4 443.3L366.5 443.3L366.6 444.0L366.7 444.0L366.9 444.9L367.0 444.7L367.1 445.5L367.2 445.4L367.3 446.2L367.4 446.2L367.5 446.9L367.5 446.9L367.6 447.6L367.6 447.6L367.6 448.4L367.6 448.3L367.7 449.1L367.7 449.0L367.7 449.7L367.7 449.8L367.8 450.5L367.8 450.5L367.8 451.3L367.8 451.2L367.9 452.0L367.9 451.8L367.9 452.8L367.9 452.6L368.0 453.4L368.0 453.4L368.0 454.1L368.0 454.1L368.1 454.8L368.1 454.5L368.4 455.9L368.7 454.8L369.0 456.7L369.3 455.6L369.5 456.6L369.7 454.8L370.0 456.0L370.2 454.5L370.4 455.4L370.6 454.0L370.7 454.7L370.8 454.6L370.9 455.5L371.0 455.4L371.2 456.0L371.3 456.0L371.4 456.7L371.5 456.7L371.6 457.3L371.7 457.3L371.8 458.0L371.9 457.9L372.0 458.7L372.1 458.7L372.2 459.5L372.3 458.6L372.4 458.6L372.5 458.0L372.6 457.9L372.7 457.2L372.8 457.3L372.9 456.4L373.0 456.6L373.1 455.8L373.1 455.8L373.2 455.1L373.3 455.1L373.4 454.3L373.5 454.3L373.6 454.3L373.7 455.1L373.7 455.0L373.8 455.9L373.9 455.8L374.0 456.5L374.0 456.5L374.1 457.2L374.2 457.1L374.3 457.8L374.3 457.8L374.4 458.6L374.5 458.2L374.7 459.6L374.9 458.5L375.2 460.3L375.4 459.6L375.6 460.6L375.7 459.8L375.8 459.9L375.9 459.2L376.0 459.2L376.1 458.6L376.3 458.6L376.4 457.8L376.5 457.8L376.6 457.1L376.7 457.2L376.8 456.4L376.9 456.6L377.0 455.9L377.0 455.9L377.1 455.1L377.2 455.1L377.3 454.3L377.3 454.6L377.4 453.7L377.5 453.8L377.6 452.9L377.6 453.1L377.7 452.3L377.8 452.4L377.9 451.6L377.9 451.8L378.0 451.0L378.1 451.3L378.2 450.4L378.4 452.2L378.6 451.2L378.7 453.1L378.9 451.6L379.0 453.7L379.2 452.5L379.3 454.4L379.4 453.4L379.6 455.1L379.8 454.1L380.0 455.3L380.3 453.3L380.6 454.3L380.8 453.0L381.1 453.9L381.4 452.7L381.5 453.5L381.6 453.5L381.7 454.3L381.8 454.1L381.9 454.9L382.0 454.8L382.1 455.6L382.1 455.6L382.2 456.3L382.3 456.3L382.4 457.0L382.5 457.1L382.6 457.8L382.7 457.8L382.8 458.4L382.9 457.7L383.0 457.8L383.1 457.1L383.2 457.2L383.3 456.4L383.4 456.5L383.5 455.7L383.6 455.7L383.6 455.0L383.7 455.1L383.8 454.4L383.9 454.4L384.0 453.7L384.1 453.8L384.2 453.0L384.3 453.1L384.4 453.0L384.6 453.8L384.7 453.7L384.8 454.5L385.0 454.3L385.1 455.1L385.2 455.1L385.3 455.9L385.5 455.6L385.6 456.4L385.7 455.6L385.7 455.8L385.8 455.0L385.8 455.1L385.9 454.3L386.0 454.4L386.0 453.6L386.1 453.7L386.2 453.0L386.2 453.0L386.3 452.2L386.3 452.2L386.4 451.3L386.6 451.8L386.8 450.5L387.0 451.8L387.2 449.6L387.5 451.1L387.7 449.0L387.9 450.0L388.1 449.0L388.2 449.1L388.2 448.2L388.3 448.4L388.4 447.5L388.4 447.7L388.5 446.8L388.5 447.0L388.6 446.2L388.7 446.2L388.7 445.5L388.8 445.4L388.9 444.8L388.9 444.8L389.0 444.1L389.0 444.1L389.1 443.4L389.2 443.4L389.2 442.6L389.3 442.7L389.4 441.9L389.4 441.9L389.5 441.3L389.5 441.2L389.6 440.4L389.7 440.6L389.7 439.8L389.8 439.9L389.9 439.2L389.9 439.2L390.0 438.4L390.0 438.4L390.1 437.7L390.2 437.8L390.2 437.0L390.3 437.0L390.4 436.3L390.4 436.3L390.5 435.5L390.5 435.5L390.6 434.4L391.0 435.7L391.4 434.4L391.9 435.8L392.3 434.1L392.7 435.8L392.8 433.8L393.0 434.9L393.1 433.0L393.3 434.5L393.4 432.5L393.6 433.3L393.7 432.0L393.8 433.7L394.0 432.3L394.1 434.4L394.3 433.2L394.4 435.0L394.6 434.2L394.8 435.2L394.8 435.1L394.8 435.9L394.9 435.9L394.9 436.7L394.9 436.6L395.0 437.3L395.0 437.4L395.0 438.1L395.1 438.0L395.1 438.9L395.2 438.8L395.2 439.6L395.2 439.4L395.3 440.2L395.3 440.2L395.3 441.0L395.4 441.0L395.4 441.6L395.5 441.6L395.5 442.5L395.5 442.5L395.6 443.1L395.6 443.1L395.7 443.8L395.7 443.8L395.8 444.5L395.9 444.5L395.9 445.3L396.0 445.2L396.0 446.0L396.1 445.9L396.2 446.7L396.2 446.6L396.3 447.4L396.4 447.4L396.4 448.2L396.5 448.0L396.5 448.8L396.6 448.7L396.7 449.5L396.7 449.5L396.8 450.1L396.8 450.1L396.9 451.0L396.9 450.9L397.0 451.7L397.0 451.6L397.0 452.5L397.1 452.3L397.1 453.0L397.2 453.1L397.2 453.9L397.2 453.7L397.3 454.6L397.3 454.5L397.4 455.3L397.4 455.1L397.4 456.0L397.5 455.8L397.5 456.7L397.6 456.6L397.6 457.5L397.6 457.3L397.7 458.0L397.7 458.1L397.8 458.9L397.8 458.8L397.8 459.6L397.9 459.5L397.9 460.3L397.9 460.3L398.0 461.0L398.0 460.9L398.0 461.7L398.1 461.5L398.1 462.3L398.2 462.3L398.2 463.2L398.2 463.1L398.3 463.7L398.3 463.8L398.3 464.5L398.4 464.5L398.4 465.2L398.4 465.1L398.5 466.0L398.5 465.9L398.5 466.6L398.6 466.5L398.6 467.3L398.6 467.2L398.7 468.1L398.7 467.9L398.8 468.8L398.9 468.6L399.0 469.3L399.1 469.4L399.2 470.2L399.3 470.1L399.4 470.8L399.5 470.7L399.6 471.5L399.7 471.4L399.8 472.2L399.8 472.1L399.8 472.8L399.8 472.9L399.8 473.6L399.8 473.5L399.8 474.3L399.8 474.3L399.8 475.1L399.8 475.0L399.8 475.7L399.8 475.8L399.8 476.4L399.8 476.4L399.8 477.2L399.8 477.1L399.8 477.9L399.8 477.8L399.8 478.5L399.8 478.4L399.8 479.2L399.8 479.2L399.8 480.0L399.7 479.8L399.7 480.7L399.7 480.7L399.7 481.4L399.7 481.2L399.7 482.2L399.7 482.0L399.7 482.7L399.7 482.8L399.7 483.5L399.7 483.5L399.7 484.3L399.7 484.2L399.7 484.9L399.7 484.8L399.7 485.6L399.7 485.5L399.7 486.3L399.7 486.3L399.7 487.0L399.7 486.9L399.7 487.8L399.7 487.7L399.7 488.4L399.7 488.4L399.7 489.2L399.7 489.1L399.7 489.9L399.7 489.8L399.7 490.6L399.7 490.5L399.7 491.2L399.7 491.2L399.7 492.0L399.7 491.9L399.7 492.7L399.7 492.5L399.7 493.5L399.7 493.4L399.7 494.1L399.7 493.9L399.7 494.7L399.7 494.8L399.7 495.4L399.7 495.3L399.7 496.2L399.6 496.1L399.6 496.8L399.6 496.8L399.6 497.7L399.6 497.5L399.6 498.4L399.6 498.2L399.6 499.0L399.6 499.0L399.6 499.7L399.6 499.7L399.6 500.4L399.6 500.4L399.6 501.1L399.6 501.0L399.6 501.9L399.6 501.7L399.6 502.5L399.6 502.5L399.6 503.3L399.6 503.1L399.6 503.9L399.6 503.9L399.6 504.0L399.6 503.1L399.6 503.2L399.6 502.6L399.6 502.5L399.7 501.7L399.7 501.8L399.7 501.1L399.7 501.1L399.7 500.4L399.7 500.5L399.7 499.7L399.7 499.7L399.7 499.0L399.7 499.0L399.7 498.2L399.8 498.4L399.8 497.6L399.8 497.7L399.8 496.8L399.8 497.0L399.8 496.1L399.8 496.2L399.8 495.4L399.8 495.6L399.8 494.8L399.8 494.9L399.8 494.0L399.9 494.1L399.9 493.3L399.9 493.4L399.9 492.6L399.9 492.7L399.9 491.9L399.9 492.0L399.9 491.2L399.9 491.2L399.9 490.5L399.9 490.6L400.0 489.8L400.0 490.0L400.0 489.1L400.0 489.2L400.0 488.4L400.0 488.5L400.0 487.7L400.0 487.7L400.0 487.0L400.0 487.1L400.0 486.4L400.1 486.4L400.1 485.7L400.1 485.7L400.1 485.0L400.1 485.0L400.1 484.3L400.1 484.3L400.1 483.4L400.1 483.7L400.1 482.8L400.1 482.9L400.2 482.1L400.2 482.2L400.2 481.4L400.2 481.4L400.2 480.7L400.2 480.8L400.2 480.0L400.2 480.1L400.2 479.4L400.2 479.4L400.2 478.5L400.2 478.8L400.3 478.0L400.3 478.0L400.3 477.2L400.3 477.2L400.3 476.5L400.3 476.5L400.3 475.9L400.3 475.8L400.3 475.1L400.3 475.2L400.3 474.4L400.4 474.5L400.4 473.6L400.4 473.7L400.4 472.9L400.4 473.1L400.4 472.5L400.4 472.9L400.4 473.2L400.4 473.6L400.4 473.9L400.4 474.3L400.4 474.6L400.4 475.0L400.4 475.3L400.4 475.7L400.4 476.0L400.4 476.4L400.4 476.7L400.4 477.1L400.4 477.4L400.4 477.8L400.4 478.1L400.4 478.5L400.4 478.8L400.4 479.2L400.4 479.5L400.4 479.9L400.4 480.2L400.4 480.6L400.4 480.9L400.4 481.3L400.4 481.6L400.4 482.0L400.4 482.3L400.4 482.7L400.4 483.0L400.4 483.4L400.4 483.7L400.4 484.1L400.4 484.4L400.4 484.8L400.4 485.1L400.4 485.5L400.4 485.8L400.4 486.2L400.4 486.5L400.4 486.9L400.4 487.2L400.4 487.6L400.4 487.9L400.4 488.3L400.4 488.7L400.4 489.0L400.4 489.4L400.4 489.7L400.4 490.1L400.4 490.4L400.4 490.8L400.4 491.1L400.4 491.5L400.4 491.8L400.4 492.2L400.4 492.5L400.4 492.9L400.4 493.2L400.4 493.6L400.4 493.9L400.4 494.3L400.4 494.6L400.4 495.0L400.4 495.3L400.4 495.7L400.4 496.0L400.4 496.4L400.4 496.7L400.4 497.1L400.4 497.4L400.4 497.8L400.4 498.1L400.4 498.5L400.4 498.8L400.4 499.2L400.4 499.5L400.4 499.9L400.4 500.2L400.4 500.6L400.4 500.9L400.4 501.3L400.4 501.6L400.4 502.0L400.4 502.3L400.4 502.7L400.4 503.0L400.4 503.4L400.4 503.7L400.4 504.1L400.4 505.3L400.6 503.3L400.8 504.8L401.0 503.0L401.2 504.5L401.4 503.5L401.6 505.4L401.8 503.7L402.0 504.5L402.2 502.9L402.4 504.3L402.6 503.3L402.8 504.5L403.3 503.7L405.4 502.4L412.1 502.4L412.9 503.2L416.7 503.4L418.8 504.9L421.2 506.2L434.2 506.3L435.4 507.4L436.7 506.3L441.7 506.3L442.5 505.3L443.3 506.3L444.0 506.4L444.5 506.4L445.0 506.4L445.5 506.4L446.0 506.4L446.5 506.4L447.0 506.4L447.5 506.4L448.0 506.4L448.5 506.4L449.0 506.4L449.5 506.4L450.0 506.4L450.5 506.4L451.0 506.4L451.5 506.4L452.0 506.4L452.5 506.4L453.0 506.4L453.5 506.4L454.0 506.4L454.5 506.4L455.0 506.4L455.5 506.4L456.0 506.4L456.5 506.4L457.0 506.4L457.5 506.4L458.0 506.4L458.5 506.4L459.0 507.1L459.5 506.4L460.0 507.1L460.5 506.4L461.0 507.1L461.5 507.1L462.0 506.4L462.5 507.1L463.0 506.4L463.5 507.1L464.0 506.4L464.5 506.4L465.0 507.1L465.5 507.1L466.0 506.4L466.5 506.4L467.0 507.1L467.5 507.1L468.0 507.1L468.5 507.1L469.0 507.1L469.5 506.4L470.0 507.1L470.5 506.4L471.0 506.4L471.5 506.4L472.0 507.1L472.5 507.1L473.0 506.4L473.5 507.1L474.0 507.1L474.5 507.1L475.0 507.1L475.5 506.4L476.0 506.4L476.5 506.4L477.0 507.1L477.5 507.1L478.0 507.1L478.5 507.1L479.0 507.1L479.5 506.4L480.0 507.1L480.5 507.1L481.0 506.4L481.5 507.1L482.0 507.1L482.5 507.1L483.0 507.1L483.5 506.4L484.0 507.1L484.5 506.4L485.0 507.1L485.5 507.1L486.0 506.4L486.5 507.1L487.0 506.4L487.5 507.1L488.0 507.1L488.5 507.1L489.0 507.1L489.5 507.1L490.0 507.1L490.5 507.1L491.0 507.1L491.5 507.1L492.0 507.1L492.5 507.1L493.0 507.1L493.5 507.1L494.0 506.4L494.5 507.1L495.0 507.1L495.5 507.1L496.0 507.1L496.5 506.4L497.0 507.1L497.5 507.1L498.0 506.4L498.5 507.1L499.0 506.4L499.5 506.4L500.0 506.4L500.5 506.4L501.0 506.4L501.5 506.4L502.0 506.4L502.5 506.4L503.0 506.4L503.5 506.4L504.0 506.4L504.5 506.4L505.0 506.4L505.5 506.4L506.0 506.4L506.5 506.4L507.0 506.4L507.5 505.4L508.0 505.4L508.5 506.4L509.0 506.4L509.5 506.4L510.0 506.4L510.5 506.4L511.0 506.4L511.5 506.4L512.0 506.4L512.5 506.4L513.0 506.4L513.5 506.4L514.0 506.4L514.5 506.4L515.0 506.4L515.5 506.4L516.0 506.4L516.5 506.4L517.0 506.4L517.5 506.4L518.0 506.4L518.5 506.4L519.0 506.4L519.5 505.5L520.0 506.4L520.5 506.4L521.0 506.4L521.5 505.5L522.0 506.4L522.5 506.4L523.0 505.5L523.5 505.5L524.0 505.5L524.5 505.5L525.0 506.4L525.5 506.4L526.0 506.4L526.5 505.5L527.0 505.5L527.5 506.4L528.0 506.4L528.5 506.4L529.0 506.4L529.5 506.4L530.0 505.5L530.5 506.4L531.0 506.4L531.5 506.4L532.0 506.4L532.5 505.5L533.0 505.5L533.5 505.5L534.0 505.5L534.5 505.5L535.0 505.5L535.5 506.4L536.0 505.3L536.5 506.6L537.0 505.3L537.5 506.6L538.0 505.3L538.5 506.6L539.0 505.3L539.5 506.6L540.0 505.3L540.5 506.6L541.0 505.3L541.5 506.6L542.0 505.3L542.5 505.3L543.0 505.3L543.5 506.6L544.0 505.3L544.5 505.3L545.0 505.3L545.5 505.3L546.0 505.3L546.5 505.3L547.0 505.3L547.5 505.3L548.0 505.3L548.5 506.6L549.0 505.3L549.5 505.3L550.0 505.3L550.5 505.3L551.0 505.3L551.5 505.3L552.0 505.3L552.5 505.3L553.0 505.3L553.5 506.6L554.0 505.3L554.5 505.3L555.0 505.3L555.5 506.6L556.0 505.3L556.5 506.6L557.0 505.3L557.5 505.3L558.0 505.3L558.5 506.6L559.0 505.3L559.5 506.6L560.0 505.3L560.5 506.6L561.0 505.3L561.5 505.3L562.0 505.3L562.5 506.6L563.0 505.3L563.5 506.6L564.0 505.3L564.5 506.6L565.0 505.3L565.5 506.6L566.0 505.3L566.5 505.3L567.0 505.3L567.5 505.3L568.0 505.4L568.5 505.4L569.0 505.4L569.5 505.4L570.0 505.3L570.5 506.6L571.0 505.3L571.5 506.6L572.0 505.3L572.5 505.4L573.0 505.4L573.5 505.4L574.0 505.4L574.5 505.4L575.0 505.4L575.5 505.4L576.0 505.4L576.5 505.4L577.0 505.4L577.5 505.4L578.0 505.4L578.5 505.4L579.0 505.4L579.5 505.4L580.0 505.4L580.5 505.4L581.0 505.3L581.5 505.3L582.0 505.3L582.5 505.3L583.0 505.3L583.5 506.6L584.0 505.3L584.5 506.6L585.0 505.3L585.5 505.3L586.0 505.3L586.5 506.6L587.0 505.3L587.5 505.3L588.0 505.3L588.5 506.6L589.0 505.3L589.5 506.6L590.0 505.3L590.5 506.6L591.0 505.3L591.5 506.6L592.0 505.3L592.5 506.6L593.0 505.3L593.5 506.6L594.0 505.3L594.5 505.3L595.0 505.3L595.5 506.6L596.0 505.3L596.5 506.6L597.0 505.3L597.5 506.6L598.0 505.3L598.5 506.6L599.0 505.3L599.5 506.6L600.0 505.3L600.5 507.5L601.0 509.6L601.5 507.0L602.0 506.5L602.5 507.0L603.0 506.6L603.5 508.0L604.0 509.6L604.5 509.6L605.0 509.0L605.5 507.0L606.0 505.3L606.5 506.6L607.0 505.3L607.5 506.6L608.0 505.3L608.5 506.6L609.0 505.3L609.5 506.6L610.0 505.3L610.5 506.6L611.0 505.3L611.5 506.6L612.0 505.3L612.5 506.6L613.0 505.3L613.5 506.6L614.0 505.3L614.5 505.3L615.0 505.3L615.5 505.3L616.0 505.3L616.5 506.6L617.0 505.3L617.5 506.6L618.0 505.3L618.5 506.6L619.0 505.3L619.5 506.6L620.0 505.3L620.5 506.6L621.0 505.3L621.5 506.6L622.0 505.3L622.5 506.6L623.0 505.3L623.5 506.6L624.0 505.3L624.5 506.6L625.0 505.3L625.5 506.6L626.0 505.3L626.5 506.6L627.0 505.3L627.5 505.3L628.0 505.3L628.5 505.3L629.0 505.3L629.5 506.6L630.0 505.3L630.5 506.6L631.0 505.3L631.5 506.6L632.0 505.3L632.5 506.6L633.0 505.3L633.5 506.6L634.0 506.4L634.5 506.4L635.0 506.4L635.5 506.4L636.0 506.4L636.5 506.4L637.0 506.4L637.5 506.4L638.0 506.4L638.5 506.4L639.0 506.4L639.5 506.4L640.0 506.4L640.5 506.4L641.0 506.4L641.5 506.4L642.0 506.4L642.5 506.4L643.0 506.4L643.5 506.4L644.0 506.4L644.5 506.4L645.0 506.4L645.5 506.4L646.0 506.4L646.5 506.4L647.0 506.4L647.5 506.4L648.0 506.4L648.5 506.4L649.0 506.4L649.5 506.4L650.0 506.4L650.5 506.4L651.0 506.4L651.5 506.4L652.0 506.4L652.5 506.4L653.0 506.4L653.5 506.4L654.0 506.4L654.5 506.4L655.0 506.4L655.5 506.4L656.0 506.4L656.5 506.4L657.0 506.4L657.5 506.4L658.0 506.4L658.5 506.4L659.0 506.4L659.5 506.4L660.0 506.4L660.5 506.4L661.0 506.4L661.5 506.4L662.0 506.4L662.5 506.4L663.0 506.4L663.5 506.4L664.0 507.6L664.5 507.6L665.0 507.6L665.5 506.4L666.0 506.4L666.5 506.4L667.0 506.4L667.5 507.6L668.0 507.6L668.5 507.6L669.0 506.4L669.5 506.4L670.0 506.4L670.5 506.4L671.0 506.4L671.5 506.4L672.0 506.4L672.5 506.4L673.0 506.4L673.5 506.4L674.0 506.4L674.5 506.4L675.0 506.4L675.5 506.4L676.0 506.4L676.5 506.4L677.0 506.4L677.5 506.4L678.0 506.4L678.6 507.5L679.8 507.4L680.6 506.0L680.9 476.5L681.0 475.9L681.1 475.8L681.1 475.1L681.2 475.0L681.3 474.5L681.3 474.1L681.3 473.8L681.3 473.4L681.3 473.1L681.3 472.7L681.3 472.4L681.3 472.0L681.3 471.7L681.3 471.3L681.3 471.0L681.3 470.6L681.3 470.3L681.3 469.9L681.3 469.6L681.3 469.2L681.3 468.9L681.3 468.5L681.3 468.2L681.3 467.8L681.3 467.5L681.3 467.1L681.3 466.8L681.3 466.4L681.3 466.1L681.3 465.7L681.3 465.4L681.3 465.0L681.3 464.7L681.4 464.3L681.4 464.0L681.4 463.6L681.4 463.3L681.4 462.9L681.4 462.6L681.4 462.2L681.4 461.9L681.4 461.5L681.4 461.2L681.4 460.8L681.4 460.5L681.4 460.1L681.4 459.8L681.4 459.4L681.4 459.1L681.4 458.7L681.4 458.4L681.4 458.0L681.4 457.7L681.4 457.3L681.4 457.0L681.4 456.6L681.4 456.3L681.4 455.9L681.4 455.6L681.4 455.2L681.4 454.9L681.4 454.9L681.7 453.7L682.0 454.2L682.2 453.3L682.5 453.4L682.6 453.6L682.8 454.1L682.9 454.2L683.0 454.8L683.1 454.9L683.3 455.5L683.4 455.2L683.6 456.5L683.8 455.9L684.0 457.0L684.2 456.6L684.4 457.7L684.6 457.4L684.7 457.4L684.8 456.7L685.0 456.6L685.1 456.0L685.2 456.3L685.6 455.3L686.0 456.1L686.3 455.5L686.7 455.9L686.8 456.0L686.8 456.6L686.9 456.8L686.9 457.3L687.0 457.5L687.1 458.0L687.1 458.2L687.2 458.8L687.2 458.9L687.3 459.5L687.4 459.7L687.6 460.2L687.7 460.3L687.8 460.9L688.0 461.0L688.1 461.6L688.2 461.5L688.5 462.4L688.7 462.2L688.9 463.1L689.1 462.6L689.3 463.8L689.5 463.5L689.6 463.4L689.8 462.8L689.9 462.7L690.0 462.1L690.1 462.0L690.3 461.5L690.4 461.3L690.5 461.4L690.5 462.0L690.6 462.2L690.7 462.7L690.8 462.9L690.8 463.5L690.9 463.6L691.0 464.2L691.1 464.3L691.1 464.9L691.2 465.1L691.3 465.7L691.4 465.0L691.5 465.0L691.6 464.4L691.7 464.3L691.8 463.7L692.0 463.6L692.1 463.0L692.2 463.0L692.3 462.4L692.4 462.2L692.5 461.5L692.7 461.7L693.0 460.5L693.2 461.1L693.4 459.9L693.6 460.9L693.8 460.5L694.1 461.6L694.3 461.0L694.5 461.5L694.7 460.3L694.9 460.9L695.1 459.6L695.3 460.2L695.5 459.1L695.7 459.5L696.0 458.3L696.2 458.8L696.4 458.1L696.4 458.7L696.4 458.8L696.5 459.4L696.5 459.6L696.5 460.2L696.5 460.3L696.6 460.9L696.6 461.0L696.6 461.6L696.6 461.8L696.7 462.4L696.7 462.5L696.7 463.5L697.0 462.7L697.3 463.8L697.6 463.3L697.9 464.1L698.2 463.8L698.4 464.3L698.5 464.4L698.6 465.0L698.7 465.1L698.8 465.7L698.9 465.8L699.0 466.4L699.2 466.5L699.3 467.0L699.4 467.2L699.5 467.7L699.6 467.1L699.7 466.9L699.8 466.3L699.9 466.3L700.0 465.6L700.1 465.4L700.2 464.9L700.3 464.7L700.4 464.0L700.6 464.4L700.9 463.1L701.1 463.6L701.4 462.6L701.6 463.2L701.9 462.0L702.1 463.0L702.4 462.7L702.6 463.5L702.9 463.1L703.1 464.4L703.3 463.9L703.5 465.0L703.6 464.6L703.8 465.6L704.0 465.5M196.5 488.0V489.8M197.5 488.2V490.2M198.5 488.5V491.7M199.5 488.7V493.4M200.5 488.9V494.2M201.5 489.2V494.8M202.5 490.7V495.8M203.5 489.0V492.5M211.5 480.4V483.6M212.5 478.9V484.3M213.5 480.2V485.6M214.5 482.4V487.8M215.5 472.5V484.0M216.5 472.1V479.6M217.5 475.6V480.5M218.5 477.0V481.4M219.5 479.0V483.9M220.5 484.5V488.5M221.5 484.7V488.1M222.5 485.2V489.2M224.5 479.0V482.0M225.5 478.3V481.5M226.5 478.5V481.8M166.5 445.8V449.1M167.5 446.5V449.6M168.5 447.2V450.2M169.5 447.9V450.8M170.5 448.5V451.7M171.5 449.8V453.5M172.5 451.5V455.7M173.5 452.6V457.0M174.5 457.2V459.8M175.5 458.4V460.9M176.5 459.4V461.8M177.5 459.7V462.1M178.5 458.9V461.3M179.5 459.2V461.7M180.5 460.2V462.8M181.5 460.9V463.3M183.5 463.8V466.6M184.5 465.1V467.7M185.5 466.5V469.1M186.5 468.0V471.0M189.5 473.8V476.6M190.5 474.5V477.9M191.5 476.0V479.2M230.5 450.5V455.0M231.5 449.7V454.3M232.5 449.9V453.2M233.5 449.5V452.0M234.5 447.3V449.8M235.5 445.8V449.1M236.5 444.8V448.6M237.5 443.7V448.0M238.5 441.5V445.5M238.5 439.8V442.8M239.5 440.1V443.2M240.5 442.3V445.4M241.5 443.9V447.7M242.5 445.0V449.4M243.5 446.3V450.7M244.5 448.8V451.8M247.5 470.5V473.3M248.5 472.5V476.4M249.5 475.0V479.1M274.5 452.5V457.0M275.5 451.4V455.1M276.5 448.7V453.6M277.5 450.4V458.3M278.5 449.7V455.8M279.5 448.3V451.6M280.5 435.8V438.2M281.5 434.9V437.6M282.5 433.8V437.0M283.5 433.4V436.5M284.5 433.2V436.0M285.5 430.5V434.5M247.5 471.2V475.4M248.5 473.1V477.2M249.5 474.9V478.3M252.5 494.5V496.6M253.5 495.8V498.4M254.5 495.6V498.4M255.5 496.0V498.5M256.5 497.5V499.6M257.5 498.4V500.5M258.5 499.1V501.4M259.5 498.5V501.6M260.5 497.2V501.4M261.5 491.4V494.8M262.5 492.1V495.3M263.5 492.9V496.1M264.5 493.4V496.4M265.5 493.3V495.6M276.5 448.5V453.1M277.5 450.1V457.8M278.5 449.1V453.7M285.5 427.1V430.5M286.5 426.5V429.9M287.5 426.0V429.2M288.5 424.7V427.9M289.5 422.2V426.2M290.5 423.4V427.3M291.5 425.1V429.1M292.5 426.1V430.3M301.5 442.8V445.3M302.5 443.1V446.2M303.5 443.9V447.6M304.5 445.7V449.5M305.5 447.6V451.2M306.5 449.2V452.8M327.5 445.8V450.2M328.5 446.4V450.5M329.5 447.4V450.5M330.5 448.2V450.9M332.5 451.8V454.6M333.5 452.9V455.5M334.5 453.9V456.4M335.5 454.4V457.2M336.5 454.8V458.1M337.5 455.3V458.6M338.5 455.3V458.7M339.5 454.9V458.1M340.5 452.5V455.5M336.5 454.6V458.2M337.5 455.0V458.7M338.5 455.1V458.9M339.5 454.8V458.5M353.5 449.0V452.3M354.5 449.1V452.3M355.5 449.2V452.4M356.5 449.3V452.5M357.5 449.4V452.7M358.5 449.2V452.6M359.5 448.0V451.3M360.5 446.7V450.3M361.5 447.0V450.4M362.5 447.3V450.4M363.5 447.6V450.7M364.5 447.9V451.0M377.5 451.5V455.3M378.5 451.1V455.0M379.5 452.2V455.5M380.5 452.5V455.7M381.5 452.5V455.8M390.5 434.6V437.4M391.5 434.2V437.1M392.5 433.9V436.8M393.5 432.5V435.8M394.5 433.4V437.2M118.5 417.7V420.8M119.5 417.2V420.5M120.5 418.0V421.3M124.5 419.7V422.0M125.5 418.9V421.4M126.5 418.4V420.9M127.5 418.6V420.8M131.5 416.1V417.4M132.5 415.1V416.9M133.5 416.2V418.3M134.5 418.2V420.4M135.5 419.6V422.3M136.5 421.5V424.6M137.5 424.2V427.5M138.5 423.9V427.5M139.5 424.1V427.5M154.5 437.3V440.0M155.5 436.2V438.8M156.5 435.1V437.9M157.5 433.9V436.9M158.5 432.7V435.8M159.5 434.0V437.6M161.5 441.1V446.2M162.5 440.0V444.0M163.5 440.6V443.8M164.5 441.8V444.5M165.5 443.2V446.2M166.5 443.9V447.0" stroke="#ff0000" stroke-width="1" fill="none" stroke-linejoin="round" shape-rendering="crispEdges"/>
<path d="M105 514h1v6h-1zM105 93h1v6h-1zM117 508h1v12h-1zM117 93h1v12h-1zM130 514h1v6h-1zM130 93h1v6h-1zM143 508h1v12h-1zM143 93h1v12h-1zM156 514h1v6h-1zM156 93h1v6h-1zM168 508h1v12h-1zM168 93h1v12h-1zM181 514h1v6h-1zM181 93h1v6h-1zM194 508h1v12h-1zM194 93h1v12h-1zM207 514h1v6h-1zM207 93h1v6h-1zM219 508h1v12h-1zM219 93h1v12h-1zM232 514h1v6h-1zM232 93h1v6h-1zM245 508h1v12h-1zM245 93h1v12h-1zM258 514h1v6h-1zM258 93h1v6h-1zM270 508h1v12h-1zM270 93h1v12h-1zM283 514h1v6h-1zM283 93h1v6h-1zM296 508h1v12h-1zM296 93h1v12h-1zM309 514h1v6h-1zM309 93h1v6h-1zM321 508h1v12h-1zM321 93h1v12h-1zM334 514h1v6h-1zM334 93h1v6h-1zM347 508h1v12h-1zM347 93h1v12h-1zM360 514h1v6h-1zM360 93h1v6h-1zM372 508h1v12h-1zM372 93h1v12h-1zM385 514h1v6h-1zM385 93h1v6h-1zM398 508h1v12h-1zM398 93h1v12h-1zM411 514h1v6h-1zM411 93h1v6h-1zM423 508h1v12h-1zM423 93h1v12h-1zM436 514h1v6h-1zM436 93h1v6h-1zM449 508h1v12h-1zM449 93h1v12h-1zM462 514h1v6h-1zM462 93h1v6h-1zM474 508h1v12h-1zM474 93h1v12h-1zM487 514h1v6h-1zM487 93h1v6h-1zM500 508h1v12h-1zM500 93h1v12h-1zM513 514h1v6h-1zM513 93h1v6h-1zM525 508h1v12h-1zM525 93h1v12h-1zM538 514h1v6h-1zM538 93h1v6h-1zM551 508h1v12h-1zM551 93h1v12h-1zM564 514h1v6h-1zM564 93h1v6h-1zM576 508h1v12h-1zM576 93h1v12h-1zM589 514h1v6h-1zM589 93h1v6h-1zM602 508h1v12h-1zM602 93h1v12h-1zM615 514h1v6h-1zM615 93h1v6h-1zM627 508h1v12h-1zM627 93h1v12h-1zM640 514h1v6h-1zM640 93h1v6h-1zM653 508h1v12h-1zM653 93h1v12h-1zM666 514h1v6h-1zM666 93h1v6h-1zM678 508h1v12h-1zM678 93h1v12h-1zM691 514h1v6h-1zM691 93h1v6h-1zM93 506h6v1h-6zM698 506h6v1h-6zM93 492h6v1h-6zM698 492h6v1h-6zM93 477h6v1h-6zM698 477h6v1h-6zM93 463h6v1h-6zM698 463h6v1h-6zM93 449h12v1h-12zM692 449h12v1h-12zM93 435h6v1h-6zM698 435h6v1h-6zM93 420h6v1h-6zM698 420h6v1h-6zM93 406h6v1h-6zM698 406h6v1h-6zM93 392h6v1h-6zM698 392h6v1h-6zM93 377h12v1h-12zM692 377h12v1h-12zM93 363h6v1h-6zM698 363h6v1h-6zM93 349h6v1h-6zM698 349h6v1h-6zM93 335h6v1h-6zM698 335h6v1h-6zM93 320h6v1h-6zM698 320h6v1h-6zM93 306h12v1h-12zM692 306h12v1h-12zM93 292h6v1h-6zM698 292h6v1h-6zM93 277h6v1h-6zM698 277h6v1h-6zM93 263h6v1h-6zM698 263h6v1h-6zM93 249h6v1h-6zM698 249h6v1h-6zM93 235h12v1h-12zM692 235h12v1h-12zM93 220h6v1h-6zM698 220h6v1h-6zM93 206h6v1h-6zM698 206h6v1h-6zM93 192h6v1h-6zM698 192h6v1h-6zM93 177h6v1h-6zM698 177h6v1h-6zM93 163h12v1h-12zM692 163h12v1h-12zM93 149h6v1h-6zM698 149h6v1h-6zM93 135h6v1h-6zM698 135h6v1h-6zM93 120h6v1h-6zM698 120h6v1h-6zM93 106h6v1h-6zM698 106h6v1h-6z" fill="#000000" shape-rendering="crispEdges"/>
<path d="M92 92h613v1h-613zM92 520h613v1h-613zM92 92h1v429h-1zM704 92h1v429h-1z" fill="#0000ff" shape-rendering="crispEdges"/>
<g font-family="'Liberation Serif', 'Times New Roman', serif" fill="#0000ff" font-size="17.3">
<text transform="translate(93.10 538.8) rotate(0.05)" text-anchor="middle">0</text>
<text transform="translate(144.06 538.8) rotate(0.05)" text-anchor="middle">2</text>
<text transform="translate(195.02 538.8) rotate(0.05)" text-anchor="middle">4</text>
<text transform="translate(245.98 538.8) rotate(0.05)" text-anchor="middle">6</text>
<text transform="translate(296.94 538.8) rotate(0.05)" text-anchor="middle">8</text>
<text transform="translate(347.90 538.8) rotate(0.05)" text-anchor="middle">10</text>
<text transform="translate(398.86 538.8) rotate(0.05)" text-anchor="middle">12</text>
<text transform="translate(449.82 538.8) rotate(0.05)" text-anchor="middle">14</text>
<text transform="translate(500.78 538.8) rotate(0.05)" text-anchor="middle">16</text>
<text transform="translate(551.74 538.8) rotate(0.05)" text-anchor="middle">18</text>
<text transform="translate(602.70 538.8) rotate(0.05)" text-anchor="middle">20</text>
<text transform="translate(653.66 538.8) rotate(0.05)" text-anchor="middle">22</text>
<text transform="translate(704.62 538.8) rotate(0.05)" text-anchor="middle">24</text>
<text transform="translate(87.3 526.95) rotate(0.05)" text-anchor="end">0.0</text>
<text transform="translate(87.3 455.62) rotate(0.05)" text-anchor="end">0.5</text>
<text transform="translate(87.3 384.28) rotate(0.05)" text-anchor="end">1.0</text>
<text transform="translate(87.3 312.95) rotate(0.05)" text-anchor="end">1.5</text>
<text transform="translate(87.3 241.62) rotate(0.05)" text-anchor="end">2.0</text>
<text transform="translate(87.3 170.28) rotate(0.05)" text-anchor="end">2.5</text>
<text transform="translate(87.3 98.95) rotate(0.05)" text-anchor="end">3.0</text>
<text transform="translate(399 556.6) rotate(0.05)" text-anchor="middle" font-size="17.15">Time (UTC)</text>
<text transform="translate(55.8 306) rotate(-90)" text-anchor="middle">Signal (V)</text>
</g>
<g font-family="'Liberation Serif', 'Times New Roman', serif" fill="#ff0000" font-size="21.36" text-anchor="middle">
<text transform="translate(398.8 55.0) rotate(0.03)">Tue Jan 6 01:00:01 UTC 2026</text>
<text transform="translate(399.05 78.0) rotate(0.03)">NAA 24.0 kHz Cutler, ME</text>
</g>
</svg>
</body></html>
